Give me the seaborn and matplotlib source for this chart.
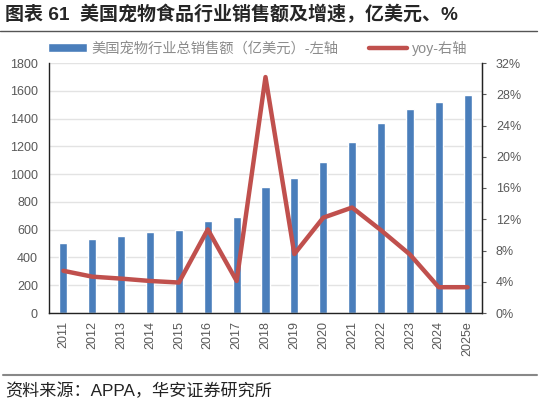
import matplotlib
matplotlib.use("Agg")
import matplotlib.pyplot as plt
import pandas as pd
import seaborn as sns
from matplotlib.ticker import FuncFormatter

years = ["2011", "2012", "2013", "2014", "2015", "2016", "2017", "2018",
         "2019", "2020", "2021", "2022", "2023", "2024", "2025e"]
sales = [505, 530, 555, 581, 600, 662, 691, 907,
         970, 1087, 1231, 1366, 1469, 1517, 1570]
yoy = [5.4, 4.65, 4.4, 4.1, 3.9, 10.7, 4.1, 30.2,
       7.55, 12.2, 13.5, 10.6, 7.5, 3.3, 3.3]

bar_label = "美国宠物行业总销售额（亿美元）-左轴"
line_label = "yoy-右轴"

sns.set_style("white")
plt.rcParams["font.family"] = ["Liberation Sans", "Noto Sans CJK SC", "DejaVu Sans"]

df = pd.DataFrame({"year": years, "sales": sales, "yoy": yoy})

fig = plt.figure(figsize=(5.41, 4.05), dpi=100)
ax = fig.add_axes([49 / 541, 92 / 405, 433 / 541, 250 / 405])

sns.barplot(data=df, x="year", y="sales", color="#4A7EBB", width=0.28,
            saturation=1, ax=ax, label=bar_label)
ax.set_ylim(0, 1800)
ax.set_yticks(range(0, 1801, 200))
ax.yaxis.grid(True, color="#E3E3E3", linewidth=1)
ax.set_axisbelow(True)
ax.set_xlabel("")
ax.set_ylabel("")
ax.set_xlim(-0.5, len(years) - 0.5)
ax.tick_params(axis="x", rotation=90, labelsize=9, colors="#595959", length=0, pad=6)
ax.tick_params(axis="y", labelsize=9, colors="#595959", length=0, pad=8)
for s in ["left", "bottom", "right"]:
    ax.spines[s].set_color("#222222")
    ax.spines[s].set_linewidth(1)
ax.spines["top"].set_visible(False)

ax2 = ax.twinx()
sns.lineplot(data=df, x="year", y="yoy", color="#C0504D", linewidth=3.2,
             sort=False, ax=ax2, label=line_label)
ax2.set_ylim(0, 32)
ax2.set_yticks(range(0, 33, 4))
ax2.yaxis.set_major_formatter(FuncFormatter(lambda v, p: f"{v:.0f}%"))
ax2.set_ylabel("")
ax2.tick_params(axis="y", labelsize=9, colors="#595959", length=3, pad=7)
ax2.spines["right"].set_color("#222222")
ax2.spines["top"].set_visible(False)
ax2.spines["left"].set_visible(False)
ax2.spines["bottom"].set_visible(False)
if ax2.get_legend():
    ax2.get_legend().remove()
if ax.get_legend():
    ax.get_legend().remove()

h1, l1 = ax.get_legend_handles_labels()
h2, l2 = ax2.get_legend_handles_labels()
fig.legend(h1 + h2, l1 + l2, loc="center", bbox_to_anchor=(258 / 541, 1 - 48 / 405),
           ncol=2, frameon=False, fontsize=10.3, labelcolor="#8C8C8C",
           handlelength=2.7, handleheight=0.55, columnspacing=2.1, handletextpad=0.35)

# title, rules and source
fig.text(5 / 541, 1 - 15 / 405, "图表 61  美国宠物食品行业销售额及增速，亿美元、%",
         fontsize=13.7, fontweight="bold", va="center", ha="left")
fig.add_artist(plt.Line2D([0, 537 / 541], [1 - 31 / 405] * 2, color="#555555", linewidth=1))
fig.add_artist(plt.Line2D([3 / 541, 537 / 541], [1 - 375 / 405] * 2, color="#888888", linewidth=1.5))
fig.text(5 / 541, 1 - 391 / 405, "资料来源：APPA，华安证券研究所",
         fontsize=12.3, va="center", ha="left", color="#222222")

fig.savefig("out.png", dpi=100)
